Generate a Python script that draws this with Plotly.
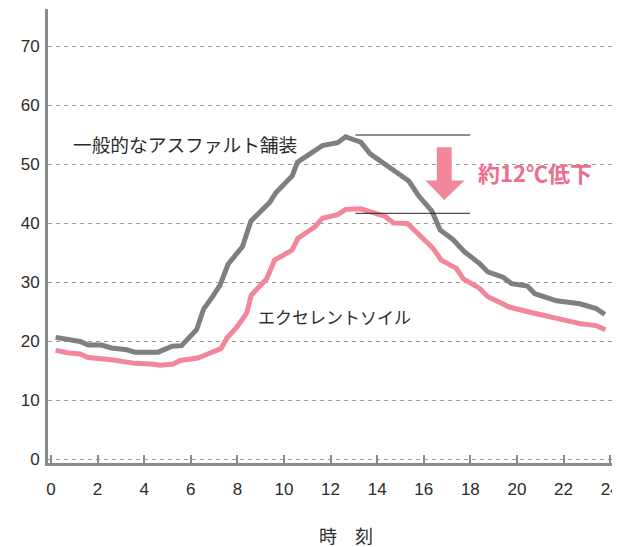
import plotly.graph_objects as go

# ---- data ----
asphalt_hours = [0.2, 0.67, 1.25, 1.6, 2.17, 2.6, 3.25, 3.6, 4.25, 4.6, 5.2, 5.6,
                 6.25, 6.55, 6.95, 7.25, 7.6, 8.22, 8.58, 9.37, 9.65, 10.36, 10.58,
                 11.65, 12.3, 12.65, 13.0, 13.3, 13.7, 14.2, 14.78, 15.36, 15.78,
                 16.35, 16.7, 17.25, 17.75, 18.4, 18.75, 19.4, 19.77, 20.45, 20.77,
                 21.7, 22.7, 23.4, 23.77]
asphalt_temp = [20.7, 20.3, 20.0, 19.4, 19.4, 18.9, 18.6, 18.2, 18.1, 18.2, 19.2, 19.3,
                22.0, 25.5, 27.7, 29.5, 33.1, 36.1, 40.4, 43.5, 45.2, 48.1, 50.4,
                53.2, 53.7, 54.7, 54.2, 53.8, 51.8, 50.4, 48.7, 47.2, 44.7,
                42.1, 38.9, 37.3, 35.2, 33.2, 31.8, 30.9, 29.8, 29.4, 28.1,
                26.9, 26.4, 25.6, 24.6]

soil_hours = [0.2, 0.7, 1.25, 1.6, 2.6, 3.25, 3.6, 4.3, 4.7, 5.25, 5.55, 6.3, 6.65,
              7.3, 7.55, 7.95, 8.4, 8.6, 9.25, 9.6, 10.35, 10.6, 11.35, 11.65, 12.3,
              12.65, 13.3, 13.85, 14.35, 14.7, 15.3, 15.8, 16.4, 16.75, 17.4, 17.7,
              18.4, 18.75, 19.7, 20.75, 21.75, 22.75, 23.4, 23.8]
soil_temp = [18.5, 18.1, 17.9, 17.3, 16.9, 16.6, 16.3, 16.2, 16.0, 16.2, 16.8, 17.2, 17.8,
             18.8, 20.6, 22.3, 24.8, 27.9, 30.6, 33.8, 35.5, 37.5, 39.5, 40.9, 41.5,
             42.4, 42.5, 41.8, 41.2, 40.1, 40.0, 38.1, 35.8, 33.8, 32.4, 30.6,
             29.0, 27.6, 25.8, 24.8, 23.8, 23.0, 22.7, 22.0]

x_ticks = list(range(0, 25, 2))
y_ticks = [0, 10, 20, 30, 40, 50, 60, 70]

label_asphalt = "一般的なアスファルト舗装"
label_soil = "エクセレントソイル"
label_drop = "約12℃低下"
x_title = "時　刻"

GRAY = "#7f7f7f"
PINK = "#f2879b"
PINK_TEXT = "#ee6d8a"
AXIS = "#8a8a8a"
TEXT = "#2b2b2b"
JP_FONT = "Noto Sans CJK JP"
NUM_FONT = "Liberation Sans, Arial, sans-serif"

fig = go.Figure()
fig.add_trace(go.Scatter(x=asphalt_hours, y=asphalt_temp, mode="lines",
                         line=dict(color=GRAY, width=5), hoverinfo="skip"))
fig.add_trace(go.Scatter(x=soil_hours, y=soil_temp, mode="lines",
                         line=dict(color=PINK, width=5), hoverinfo="skip"))

# reference lines (peak levels)
for yv in (55.0, 41.73):
    fig.add_shape(type="line", xref="x", yref="y", x0=13.07, x1=17.99, y0=yv, y1=yv,
                  line=dict(color="#222222", width=1))

# down arrow
fig.add_shape(type="path", xref="x", yref="y",
              path="M 16.56 52.92 L 17.2 52.92 L 17.2 47.3 L 17.75 47.3 L 16.88 44.0 "
                   "L 16.07 47.3 L 16.56 47.3 Z",
              fillcolor=PINK, line=dict(width=0))

fig.add_annotation(x=0.855, y=53.6, xref="x", yref="y", text=label_asphalt,
                   showarrow=False, xanchor="left", yanchor="middle",
                   font=dict(family=JP_FONT, size=18.7, color=TEXT))
fig.add_annotation(x=8.8, y=24.2, xref="x", yref="y", text=label_soil,
                   showarrow=False, xanchor="left", yanchor="middle",
                   font=dict(family=JP_FONT, size=17, color=TEXT))
fig.add_annotation(x=20.77, y=48.73, xref="x", yref="y", text="<b>" + label_drop + "</b>",
                   showarrow=False, xanchor="center", yanchor="middle",
                   font=dict(family=JP_FONT, size=22, color=PINK_TEXT))
fig.add_annotation(x=0.5236, y=-0.158, xref="paper", yref="paper", text=x_title,
                   showarrow=False, xanchor="center", yanchor="middle",
                   font=dict(family=JP_FONT, size=18, color=TEXT))

fig.update_xaxes(range=[-0.128, 24.337], tickvals=x_ticks, ticktext=[str(t) for t in x_ticks],
                 showgrid=False, zeroline=False, showline=True, linecolor=AXIS, linewidth=3,
                 ticks="inside", ticklen=8, tickwidth=2, tickcolor=AXIS,
                 ticklabelstandoff=9, ticklabeloverflow="allow",
                 tickfont=dict(family=NUM_FONT, size=17, color=TEXT))
fig.update_yaxes(range=[-0.59, 76.36], tickvals=y_ticks, ticktext=[str(t) for t in y_ticks],
                 showgrid=True, gridcolor="#9a9a9a", gridwidth=1, griddash="4px,4px",
                 zeroline=False, showline=True, linecolor=AXIS, linewidth=3,
                 ticks="", ticklabelstandoff=2,
                 tickfont=dict(family=NUM_FONT, size=17, color=TEXT))

# page body adds an 8px offset, so the figure is sized/positioned to compensate
fig.update_layout(width=612, height=539, showlegend=False,
                  margin=dict(l=40, r=0, t=1, b=84),
                  plot_bgcolor="white", paper_bgcolor="white")

fig.write_html("out.html")
